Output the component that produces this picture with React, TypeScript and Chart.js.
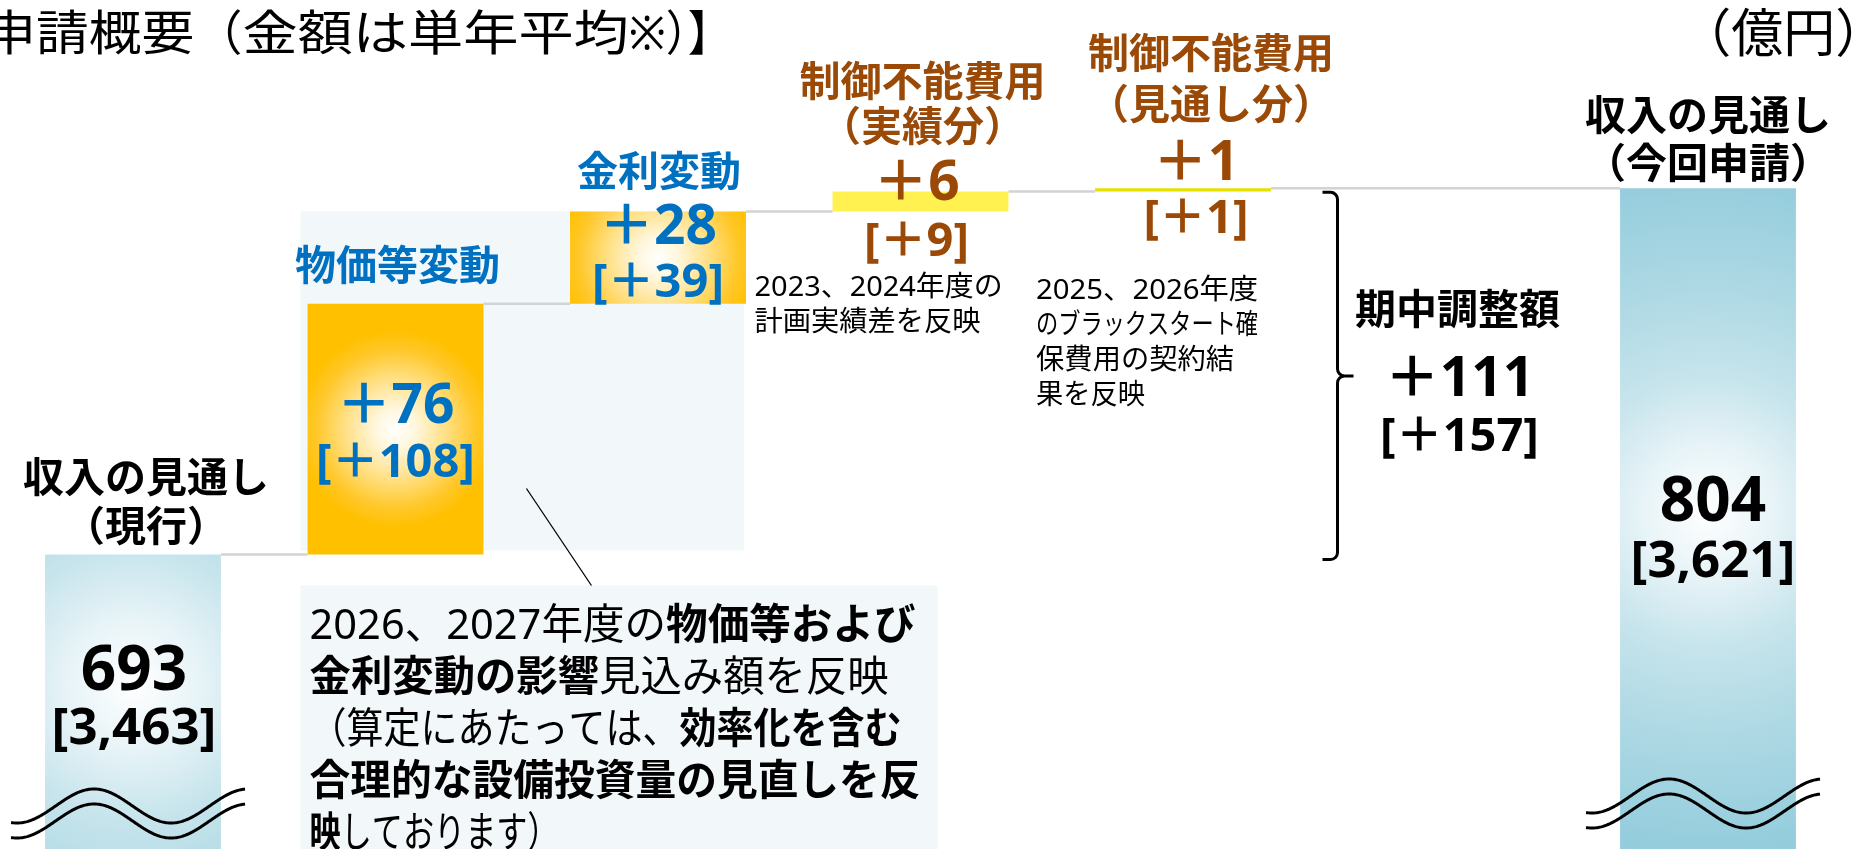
import React, { useEffect, useRef } from 'react';
import { Chart, registerables } from 'chart.js';

Chart.register(...registerables);

// ---------------- data ----------------
const categories = [
  '収入の見通し（現行）',
  '物価等変動',
  '金利変動',
  '制御不能費用（実績分）',
  '制御不能費用（見通し分）',
  '期中調整額',
  '収入の見通し（今回申請）',
];
const categoryLines = [
  ['収入の見通し', '（現行）'],
  ['物価等変動'],
  ['金利変動'],
  ['制御不能費用', '（実績分）'],
  ['制御不能費用', '（見通し分）'],
  ['期中調整額'],
  ['収入の見通し', '（今回申請）'],
];
const annualAmounts = [693, 76, 28, 6, 1, 111, 804]; // 単年平均（億円）
const periodAmounts = [3463, 108, 39, 9, 1, 157, 3621]; // ［ ］内
const barKinds = ['total', 'delta', 'delta', 'delta', 'delta', 'sum', 'total'];
const noteLines = [
  null,
  null,
  null,
  ['2023、2024年度の', '計画実績差を反映'],
  ['2025、2026年度', 'のブラックスタート確', '保費用の契約結', '果を反映'],
  null,
  null,
];
const calloutLines: [string, boolean][][] = [
  [['2026、2027年度の', false], ['物価等および', true]],
  [['金利変動の影響', true], ['見込み額を反映', false]],
  [['（算定にあたっては、', false], ['効率化を含む', true]],
  [['合理的な設備投資量の見直しを反', true]],
  [['映', true], ['しております）', false]],
];
const titleParts = ['申請概要', '（', '金額は単年平均', '※）】'];
const unitText = '（億円）';
const yAxisMin = 603.73;
const yAxisMax = 861.08;
const barFloor = 560;

// ---------------- derived floating bars ----------------
const floatingData: ([number, number] | null)[] = [];
const barTops: number[] = [];
{
  let run = 0;
  annualAmounts.forEach((v, i) => {
    const k = barKinds[i];
    if (k === 'total') {
      run = v;
      floatingData.push([barFloor, v]);
    } else if (k === 'delta') {
      const s = run;
      run += v;
      floatingData.push([s, run]);
    } else {
      floatingData.push(null);
    }
    barTops.push(run);
  });
}

// ---------------- styles ----------------
const FONT = '"Noto Sans", "Noto Sans CJK JP", sans-serif';
const BLUE = '#0070C0';
const BROWN = '#9A4A06';
const labelColors = ['#000000', BLUE, BLUE, BROWN, BROWN, '#000000', '#000000'];
const blueStops: [number, string][] = [
  [0, '#FFFFFF'],
  [0.2, '#E6F3F7'],
  [0.4, '#C6E4EC'],
  [0.65, '#AED9E4'],
  [1, '#93CCDC'],
];
const goldStops: [number, string][] = [
  [0, '#FFFFFF'],
  [0.22, '#FFF6DA'],
  [0.5, '#FFE189'],
  [0.8, '#FFC82B'],
  [1, '#FFC000'],
];
const barStyles: any[] = [
  { type: 'radial', stops: blueStops, cy: 0.44, rf: 1.95 },
  { type: 'radial', stops: goldStops, cy: 0.5, rf: 0.56 },
  { type: 'radial', stops: goldStops, cy: 0.5, rf: 0.56 },
  { type: 'solid', color: '#FFF150' },
  { type: 'solid', color: '#E6E000' },
  null,
  { type: 'radial', stops: blueStops, cy: 0.49, rf: 1.95 },
];
// label offsets relative to bar top (px)
const labelLayout = [
  { dx: 13, names: [-74, -25], vdx: 1, val: 118, per: 175 },
  { dx: 2, names: [-35], vdx: 0, val: 104, per: 160 },
  { dx: 1, names: [-37], vdx: 0, val: 17, per: 72 },
  { dx: 2, names: [-107, -62], vdx: -4, val: -7, per: 51 },
  { dx: 28, names: [-132, -81], vdx: 13, val: -24, per: 31 },
  { dx: 12, names: [124], vdx: 14, val: 192, per: 249 },
  { dx: 0, names: [-70, -22], vdx: 5, val: 315, per: 374 },
];
const noteLayout: any[] = [null, null, null, { dx: -78, dy: 96, fit: [248, 226] }, { dx: -59, dy: 99, fit: [222, 222, 198, 109] }, null, null];
const calloutFit = [606, 579, 592, 611, 249];
const titleScale = [1.1, 1, 1.15, 0.92];

function barFill(ctx: any) {
  const chart = ctx.chart;
  const area = chart.chartArea;
  if (ctx.type !== 'data') return 'rgba(0,0,0,0)';
  const i = ctx.dataIndex;
  const st = barStyles[i];
  if (!st) return 'rgba(0,0,0,0)';
  if (st.type === 'solid') return st.color;
  const range = ctx.raw;
  if (!area || !range) return st.stops[st.stops.length - 1][1];
  const xs = chart.scales.x;
  const ys = chart.scales.y;
  const cx = xs.getPixelForValue(i);
  const bw = (xs.getPixelForValue(1) - xs.getPixelForValue(0)) * 0.67;
  const top = ys.getPixelForValue(range[1]);
  const bottom = Math.min(ys.getPixelForValue(range[0]), area.bottom);
  const cy = top + (bottom - top) * st.cy;
  const r = bw * st.rf;
  const g = chart.ctx.createRadialGradient(cx, cy, 0, cx, cy, r);
  st.stops.forEach(([o, c]: [number, string]) => g.addColorStop(o, c));
  return g;
}

function txt(ctx: CanvasRenderingContext2D, s: string, x: number, y: number, size: number, weight: string, color: string, align = 'center', sx = 1) {
  ctx.save();
  ctx.font = `${weight} ${size}px ${FONT}`;
  ctx.fillStyle = color;
  ctx.textBaseline = 'middle';
  ctx.textAlign = 'left';
  const w = ctx.measureText(s).width * sx;
  const left = align === 'center' ? x - w / 2 : align === 'right' ? x - w : x;
  ctx.translate(left, y);
  ctx.scale(sx, 1);
  ctx.fillText(s, 0, 0);
  ctx.restore();
}

// segments drawn one after another, each with its own horizontal scale; right-aligned at xRight
function segsRight(ctx: CanvasRenderingContext2D, parts: string[], scales: number[], xRight: number, y: number, size: number, color: string) {
  ctx.save();
  ctx.font = `normal ${size}px ${FONT}`;
  const ws = parts.map((p, k) => ctx.measureText(p).width * scales[k]);
  let x = xRight - ws.reduce((a, b) => a + b, 0);
  ctx.fillStyle = color;
  ctx.textBaseline = 'middle';
  ctx.textAlign = 'left';
  parts.forEach((p, k) => {
    ctx.save();
    ctx.translate(x, y);
    ctx.scale(scales[k], 1);
    ctx.fillText(p, 0, 0);
    ctx.restore();
    x += ws[k];
  });
  ctx.restore();
}

function richLine(ctx: CanvasRenderingContext2D, segs: [string, boolean][], x: number, y: number, size: number, color: string, fit?: number) {
  ctx.save();
  let total = 0;
  const widths = segs.map(([t, b]) => {
    ctx.font = `${b ? 'bold' : 'normal'} ${size}px ${FONT}`;
    const w = ctx.measureText(t).width;
    total += w;
    return w;
  });
  const sx = fit ? Math.min(1.05, fit / total) : 1;
  ctx.translate(x, y);
  ctx.scale(sx, 1);
  ctx.textBaseline = 'middle';
  ctx.textAlign = 'left';
  ctx.fillStyle = color;
  let cur = 0;
  segs.forEach(([t, b], k) => {
    ctx.font = `${b ? 'bold' : 'normal'} ${size}px ${FONT}`;
    ctx.fillText(t, cur, 0);
    cur += widths[k];
  });
  ctx.restore();
}

function geom(chart: any, i: number) {
  const xs = chart.scales.x;
  const ys = chart.scales.y;
  const cx = xs.getPixelForValue(i);
  const el: any = chart.getDatasetMeta(0).data[i];
  const w = el && isFinite(el.width) ? el.width : (xs.getPixelForValue(1) - xs.getPixelForValue(0)) * 0.67;
  const top = ys.getPixelForValue(barTops[i]);
  return { cx, left: cx - w / 2, right: cx + w / 2, top, w };
}

function wave(ctx: CanvasRenderingContext2D, x0: number, x1: number, yc: number, amp: number, half: number, trough: number) {
  ctx.beginPath();
  for (let x = x0; x <= x1; x += 1) {
    const y = yc + amp * Math.cos((Math.PI * (x - trough)) / half);
    if (x === x0) ctx.moveTo(x, y);
    else ctx.lineTo(x, y);
  }
  ctx.stroke();
}

const overlayPlugin = {
  id: 'overlay',
  beforeDatasetsDraw(chart: any) {
    const ctx: CanvasRenderingContext2D = chart.ctx;
    const ys = chart.scales.y;
    const area = chart.chartArea;
    const b1 = geom(chart, 1);
    const b2 = geom(chart, 2);
    const b3 = geom(chart, 3);
    ctx.save();
    // light panel behind the price / interest bars
    ctx.fillStyle = '#F2F7FA';
    const pTop = ys.getPixelForValue(barTops[2]);
    const pBot = ys.getPixelForValue(barTops[0]) - 4;
    ctx.fillRect(b1.left - 7, pTop, b2.right - 2 - (b1.left - 7), pBot - pTop);
    // callout box
    const cTop = ys.getPixelForValue(barTops[0]) + 31;
    ctx.fillRect(b1.left - 7, cTop, b3.cx + 17 - (b1.left - 7), area.bottom - cTop);
    // connectors
    ctx.strokeStyle = '#D3D3D3';
    ctx.lineWidth = 2.5;
    const order = [0, 1, 2, 3, 4, 6];
    for (let k = 0; k < order.length - 1; k++) {
      const a = geom(chart, order[k]);
      const b = geom(chart, order[k + 1]);
      const y = ys.getPixelForValue(barTops[order[k]]);
      ctx.beginPath();
      ctx.moveTo(a.right, y);
      ctx.lineTo(b.left, y);
      ctx.stroke();
    }
    ctx.restore();
  },
  afterDatasetsDraw(chart: any) {
    const ctx: CanvasRenderingContext2D = chart.ctx;
    const ys = chart.scales.y;
    const area = chart.chartArea;
    ctx.save();
    // break marks on the total bars
    ctx.strokeStyle = '#000000';
    ctx.lineWidth = 3;
    const waveY = [area.bottom - 43, null, null, null, null, null, area.bottom - 53];
    [0, 6].forEach((i) => {
      const g = geom(chart, i);
      const yc = waveY[i] as number;
      wave(ctx, g.left - 34, g.right + 25, yc, 17, 77, g.left - 28);
      wave(ctx, g.left - 34, g.right + 25, yc + 15, 17, 77, g.left - 28);
    });

    // bracket for the period adjustment total
    const s = geom(chart, 5);
    const yTop = ys.getPixelForValue(barTops[6]) + 4;
    const yBot = ys.getPixelForValue(barTops[0]) + 5;
    const yMid = (yTop + yBot) / 2;
    const xV = s.cx - 108;
    const r = 7;
    ctx.lineWidth = 3;
    ctx.beginPath();
    ctx.moveTo(xV - 15, yTop);
    ctx.arcTo(xV, yTop, xV, yTop + r, r);
    ctx.lineTo(xV, yMid - r);
    ctx.arcTo(xV, yMid, xV + r, yMid, r);
    ctx.lineTo(xV + 16, yMid);
    ctx.moveTo(xV - 15, yBot);
    ctx.arcTo(xV, yBot, xV, yBot - r, r);
    ctx.lineTo(xV, yMid + r);
    ctx.arcTo(xV, yMid, xV + r, yMid, r);
    ctx.stroke();

    // pointer line to the callout
    const b1 = geom(chart, 1);
    const cTop = ys.getPixelForValue(barTops[0]) + 31;
    ctx.lineWidth = 1.3;
    ctx.beginPath();
    ctx.moveTo(b1.right + 43, ys.getPixelForValue(barTops[0]) - 66);
    ctx.lineTo(b1.right + 108, cTop);
    ctx.stroke();

    // category names, values and period values
    categories.forEach((_, i) => {
      const g = geom(chart, i);
      const L = labelLayout[i];
      const col = labelColors[i];
      const total = barKinds[i] === 'total';
      categoryLines[i].forEach((line, k) => {
        txt(ctx, line, g.cx + L.dx, g.top + L.names[k], 41, 'bold', col);
      });
      const v = annualAmounts[i];
      const p = periodAmounts[i];
      const vs = total ? String(v) : '＋' + v;
      const ps = total ? `[${p.toLocaleString('en-US')}]` : `[＋${p}]`;
      txt(ctx, vs, g.cx + L.vdx, g.top + L.val, total ? 62 : 55, 'bold', col);
      txt(ctx, ps, g.cx + L.vdx, g.top + L.per, total ? 51 : 47, 'bold', col);
      const notes = noteLines[i];
      const NL = noteLayout[i];
      if (notes && NL) {
        notes.forEach((line, k) => {
          richLine(ctx, [[line, false]], g.left + NL.dx, geom(chart, 3).top + NL.dy + k * 35, 28, '#000000', NL.fit[k]);
        });
      }
    });

    // callout text
    calloutLines.forEach((segs, k) => {
      richLine(ctx, segs, b1.left + 2, cTop + 42 + k * 52, 42, '#000000', calloutFit[k]);
    });

    // title and unit
    segsRight(ctx, titleParts, titleScale, 732, 36, 48, '#000000');
    txt(ctx, unitText, area.right + 48, 37, 52, 'normal', '#000000', 'right', 1);
    ctx.restore();
  },
};

export default function App() {
  const ref = useRef<HTMLCanvasElement>(null);
  useEffect(() => {
    const chart = new Chart(ref.current as HTMLCanvasElement, {
      type: 'bar',
      data: {
        labels: categories,
        datasets: [
          {
            data: floatingData as any,
            backgroundColor: barFill as any,
            borderWidth: 0,
            barPercentage: 0.67,
            categoryPercentage: 1,
          },
        ],
      },
      options: {
        animation: false,
        responsive: false,
        maintainAspectRatio: false,
        devicePixelRatio: 1,
        events: [],
        layout: { padding: { left: 1.75, right: 22.75, top: 0, bottom: 0 } },
        scales: {
          x: { display: false },
          y: { display: false, min: yAxisMin, max: yAxisMax },
        },
        plugins: {
          legend: { display: false },
          tooltip: { enabled: false },
          title: { display: false },
        },
      },
      plugins: [overlayPlugin],
    });
    return () => chart.destroy();
  }, []);
  return (
    <div style={{ position: 'absolute', left: 0, top: 0, width: 1862, height: 849, background: '#ffffff' }}>
      <canvas ref={ref} width={1862} height={849} style={{ display: 'block' }} />
    </div>
  );
}
